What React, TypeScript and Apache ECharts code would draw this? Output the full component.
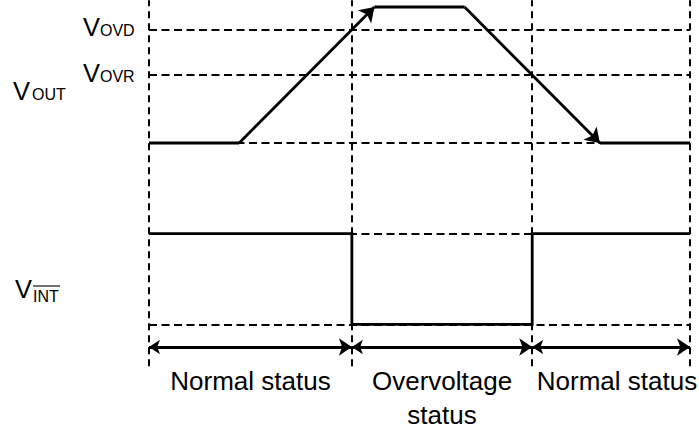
import React, { useEffect, useRef } from "react";
import * as echarts from "echarts";

// ---- data (time units / voltage units) ----
const boundaries = [0, 4.5, 8.5, 12]; // status boundaries on time axis
const levelsVout = { base: 0, ovr: 3, ovd: 5, peak: 6 };
const levelsInt = { high: -4, low: -8 };
const arrowRowLevel = -9;
const guideTop = 6.3;
const guideBottom = -9.85;

const voutFlat1: number[][] = [[0, 0], [2, 0]];
const voutRise: number[][] = [[2, 0], [5, 6]];
const voutTop: number[][] = [[5, 6], [7, 6]];
const voutFall: number[][] = [[7, 6], [10, 0]];
const voutFlat2: number[][] = [[10, 0], [12, 0]];

const vintWave: number[][] = [
  [0, -4], [4.5, -4], [4.5, -8], [8.5, -8], [8.5, -4], [12, -4],
];

const statusLabels = ["Normal status", "Overvoltage\nstatus", "Normal status"];
const statusLabelT = [2.25, 6.5, 10.38];

const FONT = "'Liberation Sans', Arial, Helvetica, sans-serif";

export default function App() {
  const ref = useRef<HTMLDivElement>(null);
  useEffect(() => {
    document.body.style.margin = "0";
    const chart = echarts.init(ref.current!, null, { renderer: "svg" });

    const pxPerV = 136 / 6;
    const gridTop = 143 - guideTop * pxPerV;
    const gridHeight = (guideTop - -10) * pxPerV;

    const dashStyle = { color: "#000", width: 1.8, type: [8, 4.5] as any, opacity: 1 };
    const vdashStyle = { color: "#000", width: 2, type: [7, 5] as any, opacity: 1 };
    const solid = { color: "#000", width: 2.8, type: "solid" as any, opacity: 1 };

    const hDash = [levelsVout.ovd, levelsVout.ovr, levelsVout.base, levelsInt.high, levelsInt.low].map(
      (v) => ({ coords: [[boundaries[0], v], [boundaries[boundaries.length - 1], v]] })
    );
    const vDash = boundaries.map((t) => ({ coords: [[t, guideBottom], [t, guideTop]] }));
    const arrows = boundaries.slice(0, -1).map((t, i) => ({
      coords: [[t, arrowRowLevel], [boundaries[i + 1], arrowRowLevel]],
    }));

    const option: any = {
      animation: false,
      grid: { left: 149, width: 541, top: gridTop, height: gridHeight, containLabel: false },
      xAxis: { type: "value", min: 0, max: 12, show: false },
      yAxis: { type: "value", min: -10, max: guideTop, show: false },
      series: [
        {
          type: "lines", coordinateSystem: "cartesian2d", polyline: false, silent: true,
          data: hDash, lineStyle: dashStyle, symbol: "none", z: 1,
        },
        {
          type: "lines", coordinateSystem: "cartesian2d", silent: true,
          data: vDash, lineStyle: vdashStyle, symbol: "none", z: 1,
        },
        {
          type: "lines", coordinateSystem: "cartesian2d", polyline: true, silent: true,
          data: [{ coords: voutFlat1 }, { coords: voutTop }, { coords: voutFlat2 }, { coords: vintWave }],
          lineStyle: solid, symbol: "none", z: 3,
        },
        {
          type: "lines", coordinateSystem: "cartesian2d", silent: true,
          data: [{ coords: voutRise }, { coords: voutFall }],
          lineStyle: solid, symbol: ["none", "arrow"], symbolSize: [11, 14], z: 3,
        },
        {
          type: "lines", coordinateSystem: "cartesian2d", silent: true,
          data: arrows, lineStyle: solid, symbol: ["arrow", "arrow"], symbolSize: [11, 13], z: 3,
        },
      ],
    };
    chart.setOption(option);

    const px = (t: number, v: number) => chart.convertToPixel({ gridIndex: 0 }, [t, v]) as number[];
    const big = 25.5;
    const small = 16;
    const txt = (text: string, x: number, y: number, size: number, align = "left", extra: any = {}) => ({
      type: "text",
      x, y,
      style: {
        text, fill: "#000", font: `${size}px ${FONT}`, align, verticalAlign: "middle", ...extra,
      },
      silent: true,
    });

    const yOvd = px(0, levelsVout.ovd)[1];
    const yOvr = px(0, levelsVout.ovr)[1];
    const graphics: any[] = [
      txt("V", 13, 91, big),
      txt("OUT", 32, 94.7, small),
      txt("V", 83, yOvd - 2.2, big),
      txt("OVD", 100, yOvd + 1.3, small),
      txt("V", 83, yOvr - 2.2, big),
      txt("OVR", 100, yOvr + 1.3, small),
      txt("V", 15, 288.5, big),
      txt("INT", 33, 296, small),
      { type: "line", shape: { x1: 33, y1: 286, x2: 60, y2: 286 }, style: { stroke: "#000", lineWidth: 1.1 }, silent: true },
    ];
    statusLabels.forEach((s, i) => {
      const x = px(statusLabelT[i], 0)[0];
      graphics.push({
        type: "text", x, y: 364, silent: true,
        style: { text: s, fill: "#000", font: `26px ${FONT}`, align: "center", verticalAlign: "top", lineHeight: 34 },
      });
    });
    chart.setOption({ graphic: graphics });

    return () => chart.dispose();
  }, []);
  return <div ref={ref} style={{ width: 699, height: 430, background: "#fff" }} />;
}
